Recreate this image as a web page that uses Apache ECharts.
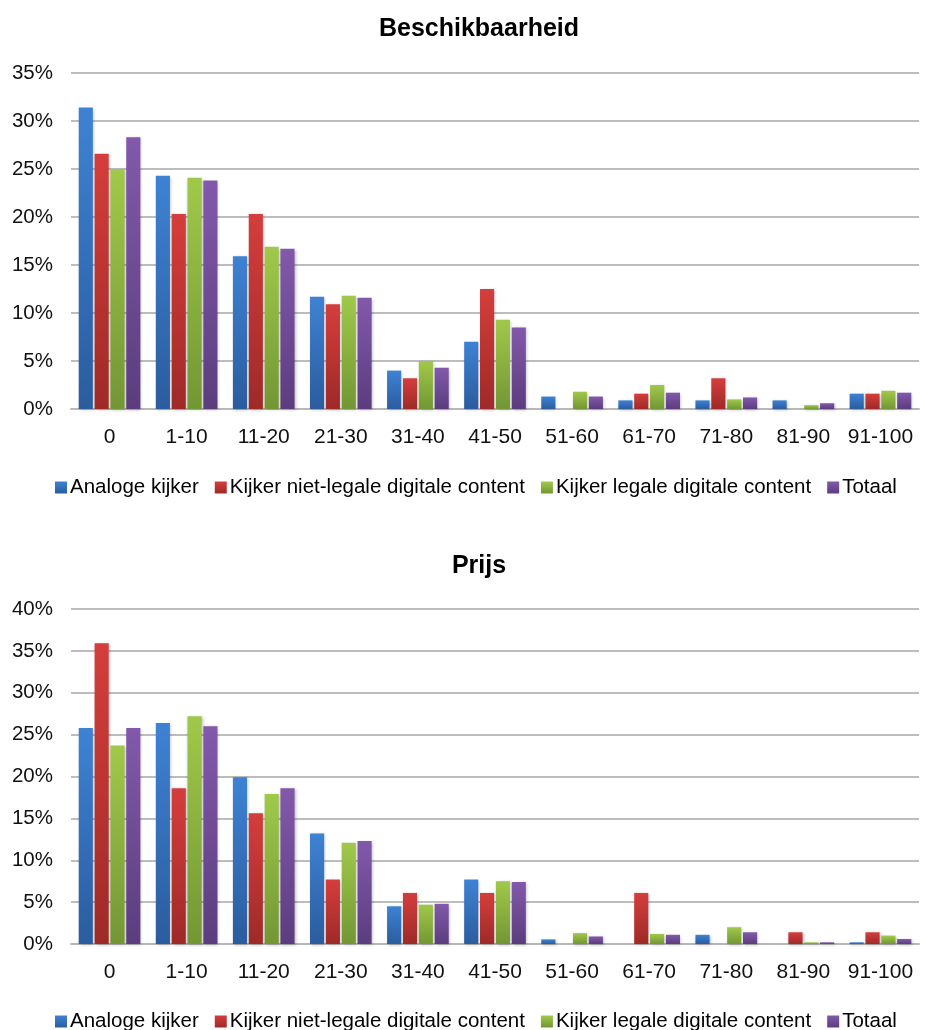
<!DOCTYPE html>
<html>
<head>
<meta charset="utf-8">
<script src="https://cdn.jsdelivr.net/npm/echarts@6/dist/echarts.min.js"></script>
<style>
  html, body { margin: 0; padding: 0; background: #fff; }
  .chart { width: 925px; height: 515px; }
</style>
</head>
<body>
<div id="top" class="chart"></div>
<div id="bottom" class="chart"></div>
<script>
const categories = ['0', '1-10', '11-20', '21-30', '31-40', '41-50', '51-60', '61-70', '71-80', '81-90', '91-100'];
const seriesNames = ['Analoge kijker', 'Kijker niet-legale digitale content', 'Kijker legale digitale content', 'Totaal'];

// Beschikbaarheid (%)
const availAnalog = [31.4, 24.3, 15.9, 11.7, 4.0, 7.0, 1.3, 0.9, 0.9, 0.9, 1.6];
const availIllegal = [26.6, 20.3, 20.3, 10.9, 3.2, 12.5, 0, 1.6, 3.2, 0, 1.6];
const availLegal = [25.0, 24.1, 16.9, 11.8, 5.0, 9.3, 1.8, 2.5, 1.0, 0.4, 1.9];
const availTotal = [28.3, 23.8, 16.7, 11.6, 4.3, 8.5, 1.3, 1.7, 1.2, 0.6, 1.7];

// Prijs (%)
const priceAnalog = [25.8, 26.4, 19.9, 13.2, 4.5, 7.7, 0.55, 0, 1.1, 0, 0.2];
const priceIllegal = [35.9, 18.6, 15.6, 7.7, 6.1, 6.1, 0, 6.1, 0, 1.4, 1.4];
const priceLegal = [23.7, 27.2, 17.9, 12.1, 4.7, 7.5, 1.3, 1.2, 2.0, 0.2, 1.0];
const priceTotal = [25.8, 26.0, 18.6, 12.3, 4.8, 7.4, 0.9, 1.1, 1.4, 0.2, 0.6];

const yTicksTop = [0, 5, 10, 15, 20, 25, 30, 35];
const yTicksBottom = [0, 5, 10, 15, 20, 25, 30, 35, 40];

const gradients = [
  ['#3e82d4', '#2b5c9e'],
  ['#d43e3c', '#9e2a28'],
  ['#a0c94a', '#739634'],
  ['#8259ab', '#5b3d7e'],
];

const fontFamily = 'Liberation Sans, Arial, sans-serif';

const makeOption = (title, data, ticks, layout) => ({
  animation: false,
  title: {
    text: title,
    left: 474,
    textAlign: 'center',
    top: layout.titleTop,
    textStyle: { fontSize: 25, fontWeight: 'bold', color: '#000', fontFamily },
  },
  legend: {
    data: seriesNames,
    top: layout.legendTop,
    left: 50,
    itemWidth: 12,
    itemHeight: 12,
    itemGap: 16,
    icon: 'rect',
    textStyle: { fontSize: 20.5, color: '#000', fontFamily, padding: [0, 0, 0, -2] },
  },
  grid: {
    left: 71,
    right: 6,
    top: layout.gridTop,
    bottom: layout.gridBottom,
  },
  xAxis: {
    type: 'category',
    data: categories,
    axisLine: { show: true, lineStyle: { color: '#b8b8b8', width: 2 } },
    axisTick: { show: false },
    axisLabel: { interval: 0, fontSize: 21, color: '#111', margin: 18, fontFamily },
  },
  yAxis: {
    type: 'value',
    min: ticks[0],
    max: ticks[ticks.length - 1],
    interval: 5,
    axisLine: { show: false },
    axisTick: { show: false },
    axisLabel: { fontSize: 20.5, color: '#111', margin: 18, fontFamily, formatter: '{value}%' },
    splitLine: { lineStyle: { color: '#bdbdbd', width: 2 } },
  },
  series: data.map((values, i) => ({
    name: seriesNames[i],
    type: 'bar',
    data: values,
    barGap: '12%',
    barCategoryGap: '20%',
    itemStyle: {
      color: new echarts.graphic.LinearGradient(0, 0, 0, 1, [
        { offset: 0, color: gradients[i][0] },
        { offset: 1, color: gradients[i][1] },
      ]),
      shadowColor: 'rgba(0,0,0,0.25)',
      shadowBlur: 3,
      shadowOffsetX: 1,
      shadowOffsetY: 1,
    },
  })),
  color: gradients.map(g => g[0]),
});

const topChart = echarts.init(document.getElementById('top'));
topChart.setOption(makeOption('Beschikbaarheid',
  [availAnalog, availIllegal, availLegal, availTotal], yTicksTop,
  { titleTop: 12, legendTop: 472, gridTop: 73, gridBottom: 106 }));

const bottomChart = echarts.init(document.getElementById('bottom'));
bottomChart.setOption(makeOption('Prijs',
  [priceAnalog, priceIllegal, priceLegal, priceTotal], yTicksBottom,
  { titleTop: 34, legendTop: 491, gridTop: 94, gridBottom: 86 }));
</script>
</body>
</html>
